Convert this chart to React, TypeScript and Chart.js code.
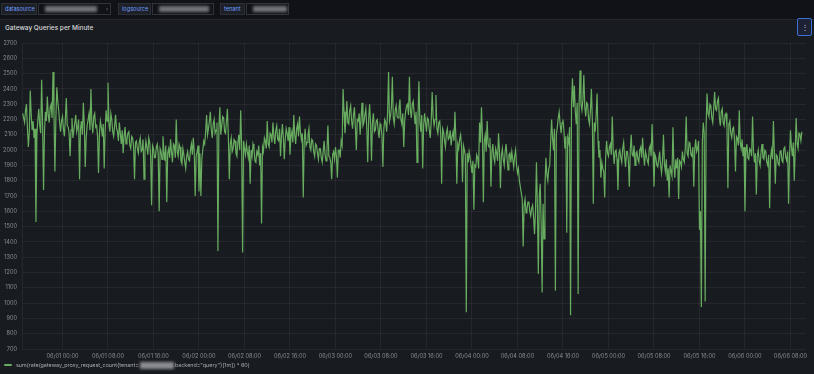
import React, { useEffect, useRef } from "react";
import { Chart, registerables } from "chart.js";

Chart.register(...registerables);

// Time grid: hours relative to 06/01 00:00, one sample every 10 minutes
const startHour = -7;
const stepHours = 1 / 6;
const xMin = -7.12;
const xMax = 130.73;
const xTickStep = 8;
const xTickLabels = [
  "06/01 00:00", "06/01 08:00", "06/01 16:00", "06/02 00:00", "06/02 08:00",
  "06/02 16:00", "06/03 00:00", "06/03 08:00", "06/03 16:00", "06/04 00:00",
  "06/04 08:00", "06/04 16:00", "06/05 00:00", "06/05 08:00", "06/05 16:00",
  "06/06 00:00", "06/06 08:00",
];
const yMin = 700;
const yMax = 2700;
const yStep = 100;

const seriesName = 'sum(rate(gateway_proxy_request_count{tenant=';
const seriesNameTail = 'backend="query"}[1m]) * 60)';

// 05/31 17:00 -> 06/02 14:30
const valuesPart1 = [
  2240, 2210, 2180, 2260, 2300, 2150, 2020, 2120, 2390, 2230, 2130, 2190, 2080, 2140, 1530, 2100, 2200, 2270, 2160, 2110,
  2460, 2170, 1740, 2120, 2250, 2190, 2350, 2230, 2180, 2280, 2300, 2210, 2510, 2240, 1860, 2200, 2410, 2320, 2260, 2180,
  2120, 2190, 2220, 2140, 2090, 2200, 2340, 2160, 2150, 2110, 1960, 2130, 2210, 2080, 2130, 2180, 2230, 2120, 2150, 2200,
  1810, 2140, 2190, 2100, 2310, 2170, 1890, 2080, 2160, 2200, 2240, 2130, 2400, 2180, 2110, 2220, 2240, 2150, 2160, 2090,
  1850, 2110, 2190, 2150, 2090, 2170, 1880, 2130, 2260, 2190, 2440, 2170, 2120, 2240, 2200, 2120, 2090, 2160, 2230, 2140,
  2120, 2060, 2180, 2110, 2040, 2130, 1980, 2090, 2150, 2040, 2070, 2110, 2120, 2030, 2010, 2090, 2080, 2020, 1810, 2050,
  2060, 2010, 1980, 2050, 2080, 1990, 2000, 2070, 1810, 1990, 2060, 2020, 1970, 2080, 2050, 1960, 1640, 2030, 2010, 1950,
  1950, 2020, 2040, 1970, 1600, 2010, 1990, 1940, 2090, 1990, 1930, 2030, 1660, 1980, 2010, 1950, 2070, 1990, 1920, 2040,
  2030, 1950, 2200, 1990, 1960, 2040, 2020, 1930, 1910, 2010, 1970, 1920, 1880, 1960, 1990, 1940, 1930, 2000, 2040, 1970,
  2080, 1990, 1700, 1960, 1990, 2030, 1730, 1980, 1700, 1940, 2000, 2060, 2040, 2120, 2230, 2100, 2140, 2190, 2250, 2130,
  2080, 2170, 2200, 2110, 2130, 2180, 1340, 2140, 2280, 2100, 2160, 2220, 2210, 2120, 2110, 2190, 2270, 2080, 1810, 2040,
  2080, 1990, 2010, 2070, 2060, 1980, 1960, 2050, 2100, 2000, 2260, 2030, 1330, 2060, 2010, 1970, 2040, 1990, 1950, 2030,
  1780, 2000, 1960, 2040, 2010, 1930, 1920, 1990, 1970, 2030, 1900, 1980, 1520, 2020, 1990, 2080, 2060, 2010, 2190, 2040,
  2020, 2110, 2100, 2050, 2180, 2090, 2040, 2130, 2160, 2070, 2060, 2140, 1960, 2090,
];

// 06/02 14:40 -> 06/04 12:30
const valuesPart2 = [
  2170, 2080, 1940, 2070, 2140, 2110, 2060, 2150, 1970, 2090, 2120, 2050, 2230, 2100, 2040, 2140, 2170, 2090, 2220, 2120,
  2070, 2110, 1690, 2060, 2140, 2030, 2050, 2100, 2140, 2020, 2000, 2070, 2060, 1990, 1960, 2040, 2030, 1980, 1940, 2010,
  2010, 1950, 1920, 1990, 2060, 1970, 1930, 2000, 2160, 1960, 1950, 1920, 1810, 1970, 1990, 1940, 2020, 1960, 1820, 2000,
  2000, 1950, 2060, 2030, 2400, 2250, 2110, 2200, 2320, 2180, 2170, 2260, 2290, 2190, 2140, 2230, 2280, 2150, 2000, 2200,
  2190, 2240, 2100, 2210, 2310, 2160, 2180, 2230, 2270, 2150, 1920, 2200, 2300, 2170, 1930, 2180, 2240, 2120, 2130, 2190,
  2200, 2130, 2080, 2170, 2150, 2100, 1890, 2140, 2200, 2180, 2120, 2250, 2510, 2190, 2220, 2280, 2480, 2210, 2170, 2260,
  2290, 2220, 2210, 2270, 2330, 2200, 2170, 2240, 2020, 2190, 2250, 2290, 2300, 2230, 2480, 2260, 2210, 2300, 2320, 2240,
  2170, 2250, 1920, 2200, 2450, 2190, 2120, 2230, 1880, 2160, 2240, 2180, 2120, 2210, 2200, 2130, 2080, 2190, 2380, 2220,
  2160, 2200, 2360, 2140, 2110, 2180, 2190, 2100, 1780, 2140, 2120, 2060, 2020, 2110, 2140, 2070, 2080, 2130, 2030, 2090,
  2120, 2060, 2250, 2080, 1780, 2040, 2010, 2070, 2100, 2020, 1790, 2030, 2000, 1960, 940, 1980, 1920, 1990, 1950, 1900,
  1850, 1930, 1610, 1900, 1890, 1970, 1950, 1880, 2180, 2050, 2280, 2100, 1660, 2060, 2100, 1990, 2190, 2040, 2020, 2080,
  1760, 1990, 2040, 1950, 1920, 2010, 1980, 1930, 2110, 1990, 1750, 1960, 2010, 1940, 1900, 1990, 2040, 1950, 1870, 1970,
  1980, 1920, 1990, 1940, 1890, 1960, 2000, 1900, 1850, 1880, 1800, 1760, 1720, 1680, 1370, 1640, 1680, 1590, 1610, 1660,
  1660, 1600, 1570, 1620, 1640, 1560, 1450, 1600, 1920, 1640, 1190, 1700, 1780, 1520, 1070, 1650,
];

// 06/04 12:40 -> 06/06 10:00
const valuesPart3 = [
  1420, 1760, 1950, 1840, 1800, 1880, 1900, 2050, 2200, 2080, 2000, 2140, 1080, 2100, 2150, 2210, 2250, 2170, 2110, 2180,
  2200, 2130, 2010, 2090, 1460, 2080, 2050, 2150, 920, 2300, 2470, 2280, 2420, 2250, 2170, 2310, 1060, 2290, 2520, 2300,
  2260, 2330, 2490, 2280, 2220, 2310, 2300, 2200, 2170, 2260, 2400, 2190, 1650, 2180, 2120, 2230, 2370, 2060, 1950, 2000,
  1820, 1920, 1880, 1860, 1690, 1950, 2060, 1980, 1960, 2020, 2040, 1970, 2220, 2000, 1910, 1990, 2000, 1940, 1740, 1980,
  2000, 1950, 1920, 2010, 2050, 1960, 1890, 1990, 1990, 1930, 1760, 2000, 2100, 1970, 1960, 2030, 1900, 1980, 1990, 1940,
  1920, 2000, 2020, 1950, 2080, 1970, 1900, 1990, 1960, 1930, 1910, 2010, 2030, 1960, 2170, 1990, 1760, 1970, 1950, 1900,
  1890, 1940, 1990, 1900, 1850, 1930, 2100, 1910, 1860, 1940, 1800, 1880, 1690, 1900, 1860, 1830, 2150, 1900, 1820, 1940,
  1880, 1950, 1680, 1930, 1920, 1890, 1990, 1940, 1920, 2010, 2220, 1980, 1960, 2050, 2040, 1970, 1960, 2020, 1760, 2000,
  2070, 1990, 2010, 2060, 1480, 1600, 975, 2050, 2180, 2110, 1010, 2160, 2370, 2240, 2220, 2300, 2290, 2210, 2180, 2270,
  2380, 2270, 2260, 2320, 2340, 2210, 2160, 2250, 2270, 2180, 2160, 2230, 2240, 2150, 1750, 2170, 2190, 2110, 2080, 2140,
  2150, 2060, 1860, 2090, 2080, 2030, 2260, 2050, 2010, 2070, 1960, 2020, 1600, 1990, 2040, 1950, 1940, 2010, 2000, 1960,
  2220, 1990, 1920, 1980, 1710, 1960, 2000, 1930, 1900, 1990, 2040, 1950, 1940, 2000, 1990, 1920, 1900, 1970, 1620, 1950,
  2000, 1940, 2190, 1980, 1780, 1970, 1960, 1910, 1900, 1990, 2000, 1930, 1920, 2010, 2020, 1950, 1930, 1990, 1650, 1960,
  2130, 2020, 1960, 2050, 1800, 2000, 2210, 2040, 2010, 2110, 2100, 2060, 2120,
];

const FONT = "Inter, 'Noto Sans', sans-serif";
const LINE_GREEN = "rgb(104,172,96)";
const TICK_COLOR = "rgba(204,204,220,0.62)";
const GRID_COLOR = "rgba(204,204,220,0.075)";

function VarPicker({ label, x, labelW, inputW, blurW }: { label: string; x: number; labelW: number; inputW: number; blurW: number }) {
  return (
    <div style={{ position: "absolute", left: x, top: 3, height: 12, display: "flex" }}>
      <div
        style={{
          width: labelW, height: 12, background: "#1d2026", border: "1px solid #2b2f36",
          boxSizing: "border-box", color: "#6e9fff", fontSize: 5.6, lineHeight: "10px",
          paddingLeft: 3, fontFamily: FONT,
        }}
      >
        {label}
      </div>
      <div
        style={{
          width: inputW, height: 12, background: "#111217", border: "1px solid #2f333a",
          boxSizing: "border-box", marginLeft: 1, position: "relative",
        }}
      >
        <div
          style={{
            position: "absolute", left: 6, top: 2, width: blurW, height: 6,
            background: "#8a8c92", filter: "blur(1.5px)", opacity: 0.8,
          }}
        />
      </div>
    </div>
  );
}

export default function App() {
  const canvasRef = useRef<HTMLCanvasElement>(null);

  useEffect(() => {
    document.body.style.margin = "0";
    document.body.style.background = "#111217";
    const values = [...valuesPart1, ...valuesPart2, ...valuesPart3];
    const points = values.map((v, i) => ({ x: startHour + i * stepHours, y: v }));
    const chart = new Chart(canvasRef.current!, {
      type: "line",
      data: {
        datasets: [
          {
            data: points,
            borderColor: LINE_GREEN,
            borderWidth: 1.2,
            pointRadius: 0,
            tension: 0,
            fill: false,
          },
        ],
      },
      options: {
        animation: false,
        responsive: false,
        maintainAspectRatio: false,
        layout: { padding: { top: 23, right: 8, left: 0, bottom: 0 } },
        plugins: { legend: { display: false }, tooltip: { enabled: false } },
        scales: {
          x: {
            type: "linear",
            min: xMin,
            max: xMax,
            afterFit: (s: any) => {
              s.height = 13;
            },
            grid: { color: GRID_COLOR, drawTicks: false },
            border: { display: false },
            ticks: {
              stepSize: xTickStep,
              includeBounds: false,
              autoSkip: false,
              maxRotation: 0,
              padding: 4,
              color: TICK_COLOR,
              font: { family: FONT, size: 5.6 },
              callback: (v: any) => xTickLabels[Math.round(Number(v) / xTickStep)] ?? "",
            },
          },
          y: {
            type: "linear",
            min: yMin,
            max: yMax,
            afterFit: (s: any) => {
              s.width = 22;
            },
            grid: { color: GRID_COLOR, drawTicks: false },
            border: { color: GRID_COLOR },
            ticks: {
              stepSize: yStep,
              padding: 5,
              color: TICK_COLOR,
              font: { family: FONT, size: 5.6 },
              callback: (v: any) => String(v),
            },
          },
        },
      },
    });
    return () => chart.destroy();
  }, []);

  return (
    <div style={{ position: "fixed", left: 0, top: 0, width: 814, height: 374, background: "#111217", overflow: "hidden", fontFamily: FONT }}>
      <VarPicker label="datasource" x={1} labelW={36} inputW={73} blurW={52} />
      <VarPicker label="logsource" x={118} labelW={33} inputW={62} blurW={50} />
      <VarPicker label="tenant" x={220} labelW={25} inputW={43} blurW={34} />
      <div style={{ position: "absolute", left: 106, top: 6, color: "#9a9ca3", fontSize: 5, fontFamily: FONT }}>›</div>

      <div
        style={{
          position: "absolute", left: 0, top: 19, width: 814, height: 355,
          background: "#181b1f", borderTop: "1px solid #24272d", boxSizing: "border-box",
        }}
      />
      <div style={{ position: "absolute", left: 5, top: 24, color: "#d8d9da", fontSize: 6.5, fontWeight: 500, fontFamily: FONT }}>
        Gateway Queries per Minute
      </div>
      <div
        style={{
          position: "absolute", left: 797, top: 18, width: 15, height: 18, border: "1px solid #3d71d9",
          borderRadius: 2, boxSizing: "border-box", background: "#1c2233", color: "#ccccdc",
          fontSize: 8, lineHeight: "16px", textAlign: "center",
        }}
      >
        ⋮
      </div>

      <canvas
        ref={canvasRef}
        width={814}
        height={342}
        style={{ position: "absolute", left: 0, top: 20, width: 814, height: 342 }}
      />

      <div style={{ position: "absolute", left: 4, top: 364, width: 8, height: 2, background: LINE_GREEN, borderRadius: 1 }} />
      <div
        style={{
          position: "absolute", left: 16, top: 361, height: 8, display: "flex", alignItems: "center",
          color: "#a9abb3", fontSize: 5.4, fontFamily: FONT, whiteSpace: "nowrap",
        }}
      >
        <span>{seriesName}</span>
        <span style={{ display: "inline-block", width: 34, height: 7, background: "#8a8c92", filter: "blur(1.5px)", margin: "0 1px" }} />
        <span>{seriesNameTail}</span>
      </div>
    </div>
  );
}
